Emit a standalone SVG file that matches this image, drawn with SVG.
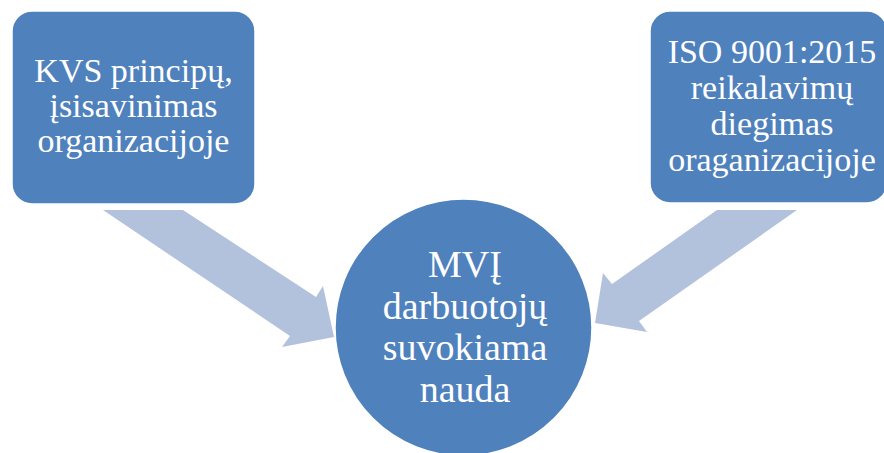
<svg xmlns="http://www.w3.org/2000/svg" width="884" height="453" viewBox="0 0 884 453">
<style>
.node{fill:#4F81BD;stroke:#FFFFFF;stroke-width:1.5}
.arrow{fill:#B3C2DC;stroke:none}
.t{font-family:"Liberation Serif","Times New Roman",serif;fill:#FFFFFF;text-anchor:middle}
.s34{font-size:34px}
.s38{font-size:38px}
</style>
<rect width="884" height="453" fill="#FFFFFF"/>
<g id="connectors">
<polygon class="arrow" points="103,210 183,210 316,297 323,286 334,337 282,347 290,336"/>
<polygon class="arrow" points="717,210 797,210 639,321 647,332 595,323 603,273 612,284"/>
</g>
<g id="node-kvs">
<rect class="node" x="12" y="11" width="243" height="193" rx="20" ry="20"/>
<text class="t s34"><tspan x="133.5" y="82">KVS principų,</tspan><tspan x="133.5" y="117">įsisavinimas</tspan><tspan x="133.5" y="152">organizacijoje</tspan></text>
</g>
<g id="node-iso">
<rect class="node" x="650" y="11" width="237" height="192" rx="20" ry="20"/>
<text class="t s34"><tspan x="772" y="63">ISO 9001:2015</tspan><tspan x="772" y="99">reikalavimų</tspan><tspan x="772" y="135">diegimas</tspan><tspan x="772" y="171">oraganizacijoje</tspan></text>
</g>
<g id="node-mvi">
<circle class="node" cx="463.5" cy="327.5" r="128.5"/>
<text class="t s38"><tspan x="465" y="277">MVĮ</tspan><tspan x="465" y="319">darbuotojų</tspan><tspan x="465" y="360">suvokiama</tspan><tspan x="465" y="402">nauda</tspan></text>
</g>
</svg>
